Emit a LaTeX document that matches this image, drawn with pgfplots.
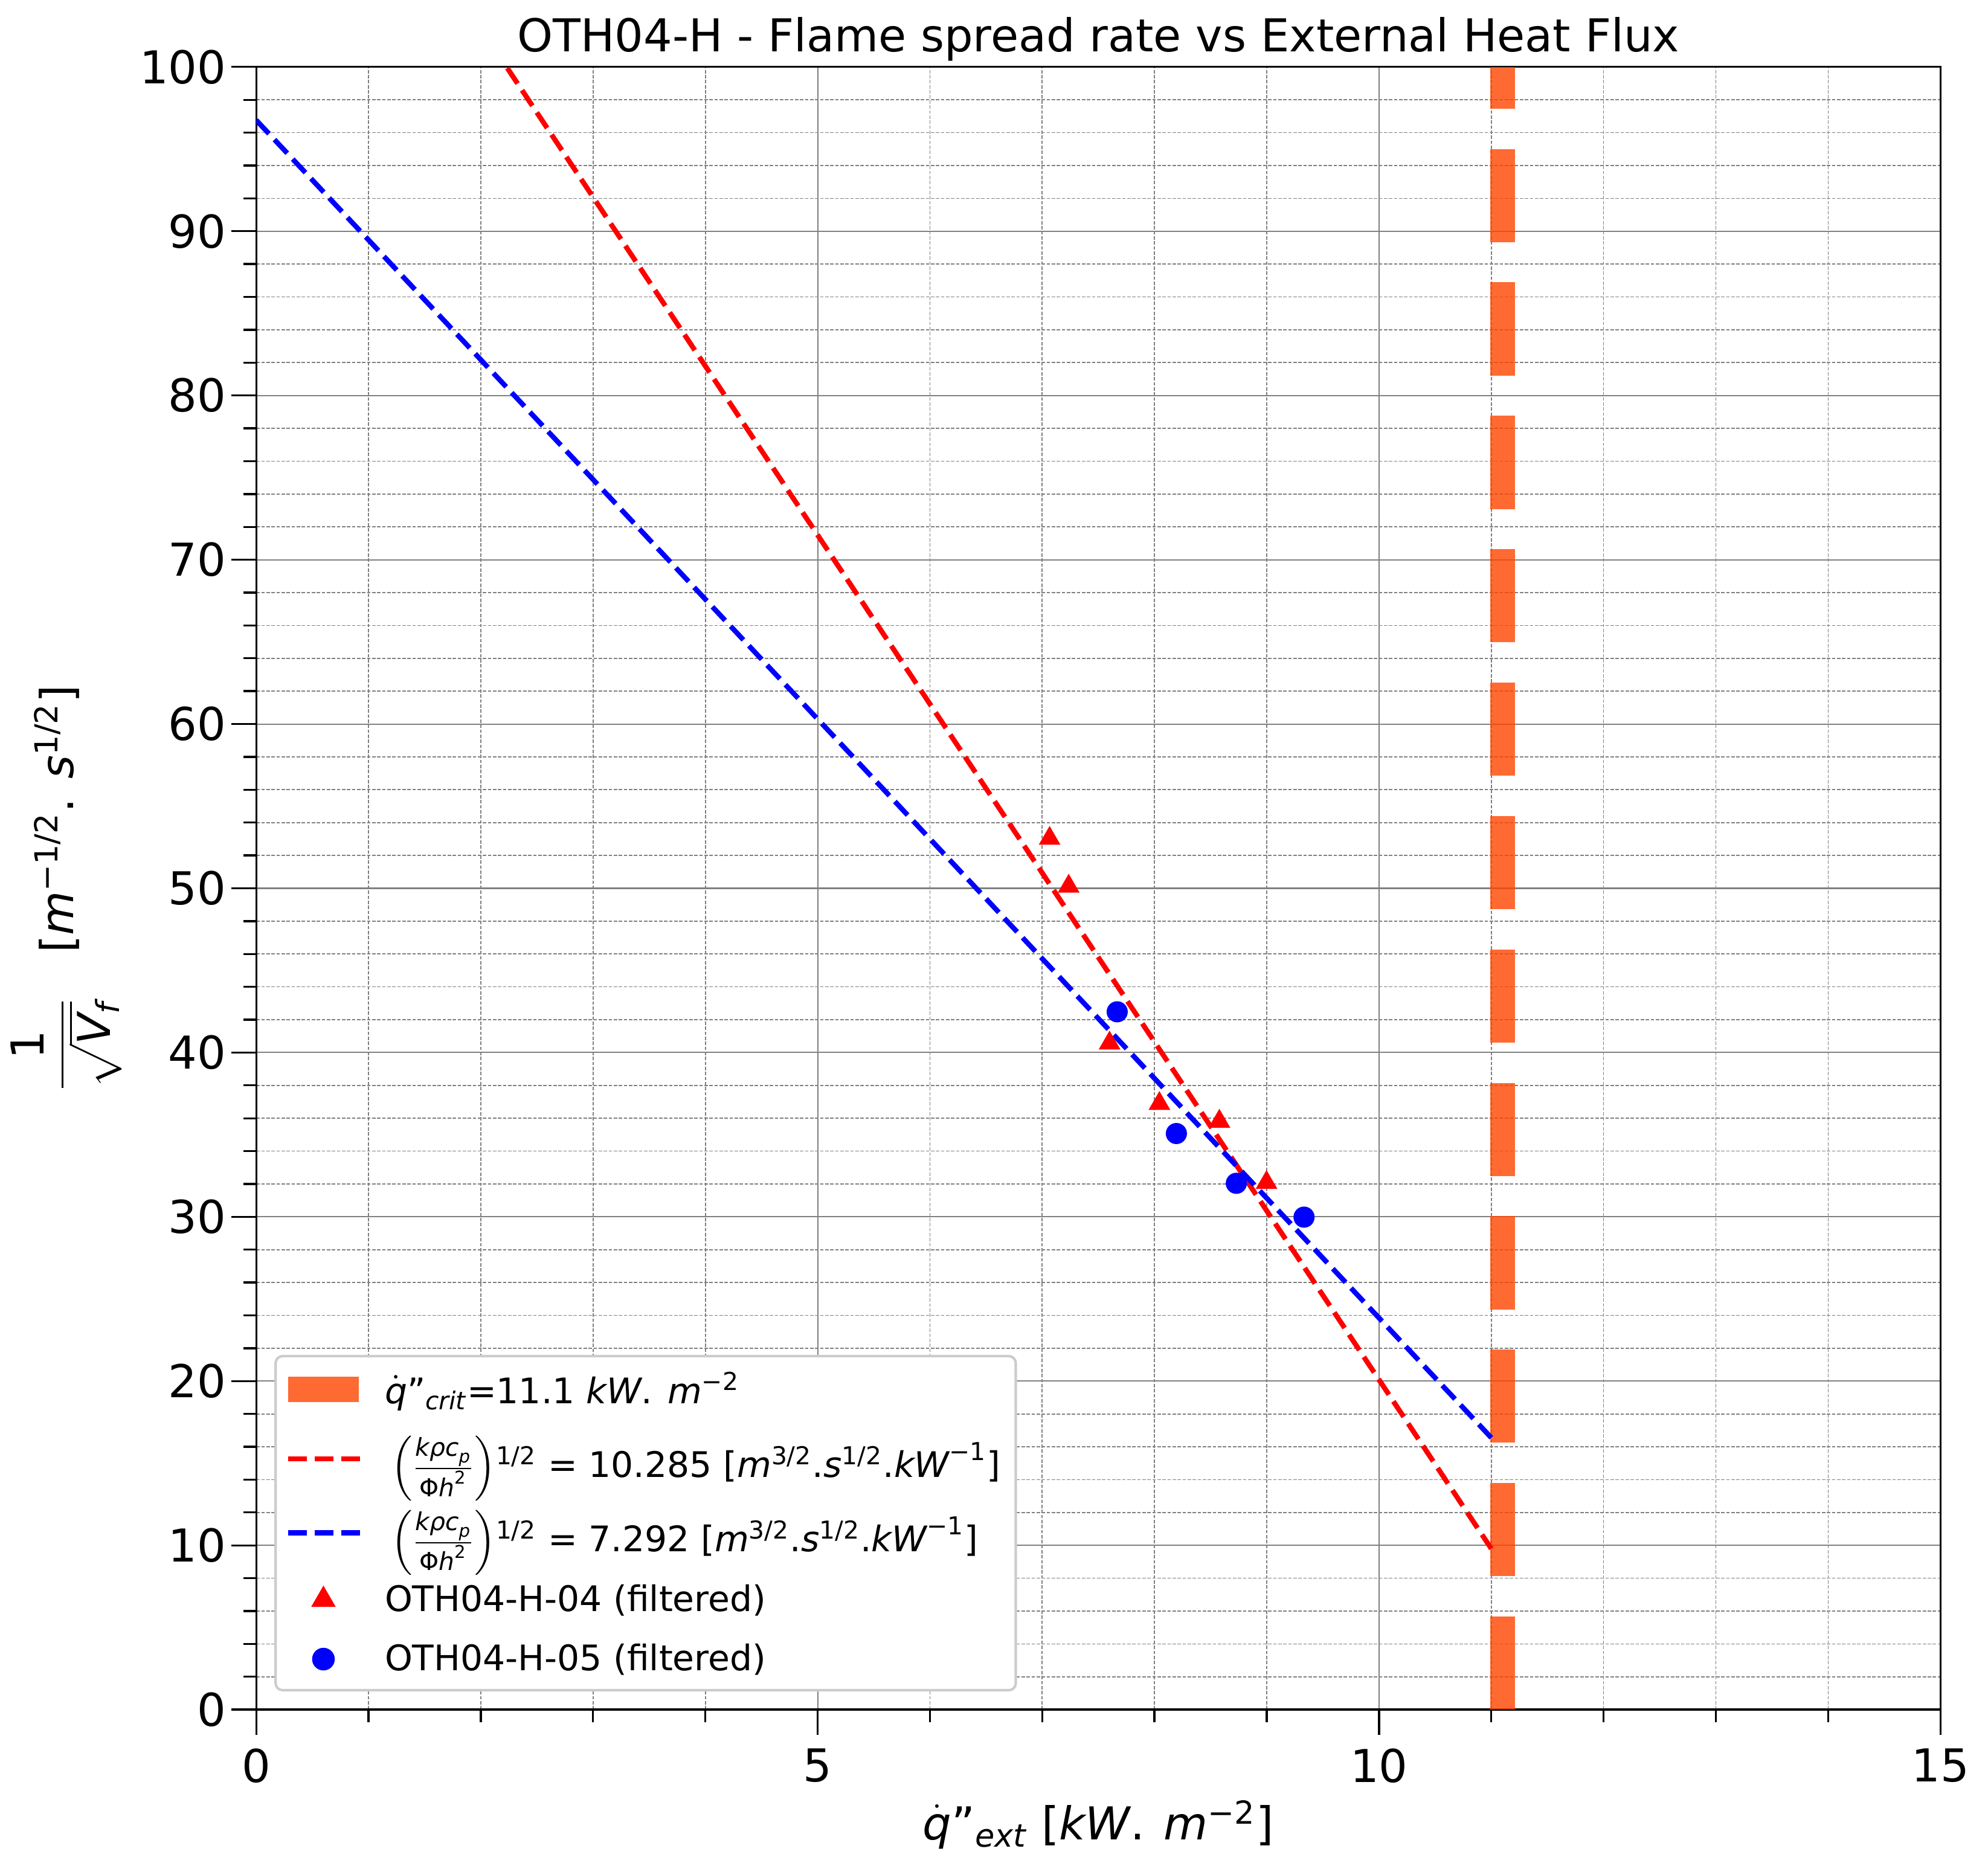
\documentclass[border=0pt]{standalone}
\usepackage{amsmath}
\usepackage{fontspec}
\setmainfont{DejaVu Sans}
\usepackage{pgfplots}
\pgfplotsset{compat=1.18}
\definecolor{orangered}{RGB}{255,69,0}
\definecolor{legedge}{RGB}{204,204,204}
\newcommand{\mi}[1]{\text{\itshape #1}}
\newcommand{\mr}[1]{\text{\upshape #1}}
\newcommand{\qd}{\dot{\mi{q}}\mr{\char34}}
\newcommand{\kfrac}{\rule[-9.5bp]{0pt}{26bp}\left(\frac{\mi{kρc}_{\mi{p}}}{\mr{Φ}\mi{h}^{\mr{2}}}\right)\!\mr{\textsuperscript{1/2}}}
\pgfplotsset{
  lineleg/.style={legend image code/.code={\draw[##1] (0bp,0bp) -- (28.6bp,0bp);}},
  markleg/.style={legend image code/.code={\draw[mark repeat=2,mark phase=2,##1] plot coordinates {(0bp,0bp) (14bp,0bp) (28bp,0bp)};}},
  boxleg/.style={legend image code/.code={\path[fill=orangered, fill opacity=0.8, draw=none, sharp corners, solid] (0bp,-5bp) rectangle (28bp,5bp);}},
}
\begin{document}
\begin{tikzpicture}
\begin{axis}[
  name=ax,
  width=669.1bp, height=652.6bp, scale only axis,
  xmin=0, xmax=15, ymin=0, ymax=100,
  xtick={0,5,10,15}, ytick={0,10,...,100},
  minor x tick num=4, minor y tick num=4,
  xtick pos=left, ytick pos=left,
  tick align=outside, major tick length=10bp, minor tick length=5bp,
  every tick/.style={black, line width=0.8bp},
  axis line style={line width=0.8bp},
  grid=both,
  major grid style={gray, line width=0.5bp, solid},
  minor grid style={gray, line width=0.4bp, dash pattern=on 1.4bp off 0.6bp},
  /pgf/number format/assume math mode=true,
  tick label style={font=\fontsize{18bp}{21.6bp}\selectfont},
  xticklabel style={anchor=north, inner sep=0pt, yshift=-5.4bp},
  yticklabel style={anchor=east, inner sep=0pt, xshift=-1.8bp},
  title={OTH04-H - Flame spread rate vs External Heat Flux},
  title style={at={(axis description cs:0.5,1)}, anchor=base, yshift=0bp, inner sep=0pt, font=\fontsize{18bp}{21.6bp}\selectfont},
  xlabel={$\qd_{\mi{ext}}\mr{ [}\mi{kW}\mr{. }\mi{m}^{\mr{−2}}\mr{]}$},
  xlabel style={at={(axis description cs:0.5,0)}, anchor=base, yshift=-51.6bp, inner sep=0pt, font=\fontsize{18bp}{21.6bp}\selectfont},
  ylabel={$\displaystyle\frac{\mr{1}}{\sqrt{\mi{V}_{\mi{f}}}}$\quad$\mr{[}\mi{m}^{\mr{−1/2}}\mr{. }\mi{s}^{\mr{1/2}}\mr{]}$},
  ylabel style={at={(axis description cs:-0.1127,0.5)}, anchor=center, inner sep=0pt, font=\fontsize{18bp}{21.6bp}\selectfont},
  legend cell align=left,
  legend style={at={(axis description cs:0,0)}, anchor=south west, xshift=7.2bp, yshift=7.2bp,
    draw=legedge, line width=1bp, fill=white, rounded corners=2.8bp,
    font=\fontsize{14bp}{16.8bp}\selectfont,
    inner xsep=4bp, inner ysep=4.3bp, row sep=7.5bp,
    /tikz/every odd column/.append style={column sep=6.8bp}},
]
% critical heat flux
\addplot[draw=orangered, draw opacity=0.8, line width=10bp, dash pattern=on 37bp off 16bp, boxleg]
  coordinates {(11.1,0) (11.1,100)};
\addlegendentry{$\qd_{\mi{crit}}\mr{=11.1 }\mi{kW}\mr{. }\mi{m}^{\mr{−2}}$}
% fits
\addplot[red, line width=2bp, dash pattern=on 7.4bp off 3.2bp, lineleg]
  coordinates {(0,122.93) (11,9.795)};
\addlegendentry{$\kfrac\mr{ = 10.285 [}\mi{m}^{\mr{3/2}}\mr{.}\mi{s}^{\mr{1/2}}\mr{.}\mi{kW}^{\mr{−1}}\mr{]}$}
\addplot[blue, line width=2bp, dash pattern=on 7.4bp off 3.2bp, lineleg]
  coordinates {(0,96.76) (11,16.55)};
\addlegendentry{$\kfrac\mr{ = 7.292 [}\mi{m}^{\mr{3/2}}\mr{.}\mi{s}^{\mr{1/2}}\mr{.}\mi{kW}^{\mr{−1}}\mr{]}$}
% data
\addplot[only marks, mark=triangle*, mark size=4.6bp, red, mark options={fill=red, draw=red}, markleg]
  coordinates {(7.066,53.03) (7.236,50.12) (7.60,40.57) (8.044,36.89) (8.578,35.81) (8.998,32.08)};
\addlegendentry{OTH04-H-04 (filtered)}
\addplot[only marks, mark=*, mark size=4bp, blue, mark options={fill=blue, draw=blue}, markleg]
  coordinates {(7.668,42.48) (8.195,35.07) (8.729,32.04) (9.332,29.98)};
\addlegendentry{OTH04-H-05 (filtered)}
\end{axis}
\pgfresetboundingbox
\path[use as bounding box] ([shift={(-101.8bp,-63.1bp)}]ax.south west) rectangle ([shift={(18.9bp,26.6bp)}]ax.north east);
\end{tikzpicture}
\end{document}
